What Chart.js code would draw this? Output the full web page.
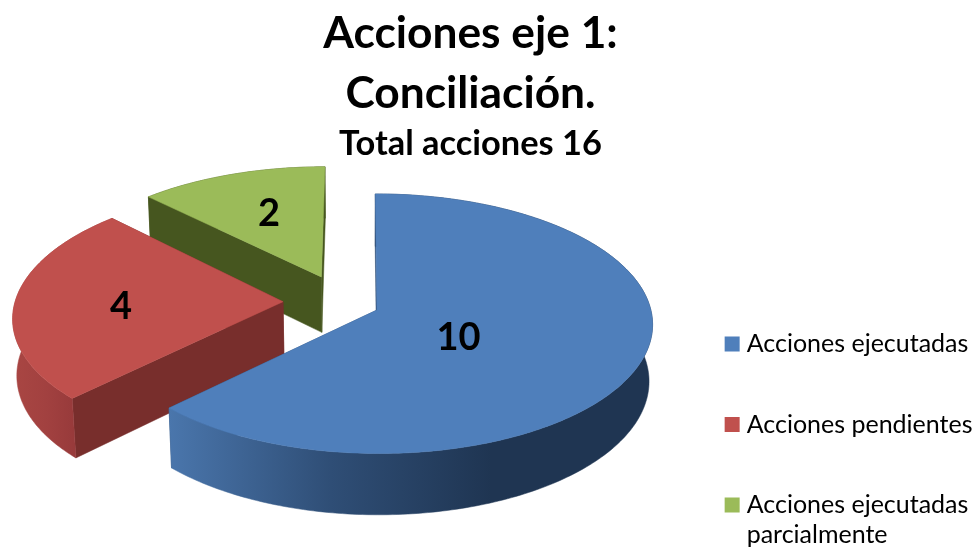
<!DOCTYPE html>
<html>
<head>
<meta charset="utf-8">
<style>
html,body{margin:0;padding:0;background:#fff;overflow:hidden}
#wrap{width:972px;height:547px}
</style>
<script src="https://cdn.jsdelivr.net/npm/chart.js@4/dist/chart.umd.min.js"></script>
</head>
<body>
<div id="wrap"><canvas id="canvas"></canvas></div>
<script>
let categories = ['Acciones ejecutadas', 'Acciones pendientes', ['Acciones ejecutadas', 'parcialmente']];
let values = [10, 4, 2];
let shiftU = [0.062, -0.283, -0.145];
let shiftV = [0.065, 0, -0.2];
let sliceSize = [1, 0.985, 1];
let topColors = ['#4F7FBB', '#C0504D', '#9BBB59'];
let wallColors = ['#2F4E76', '#782E2C', '#46561F'];
let rimColors = [['#4A76AC', '#2F4E76', '#1F3552', '#1F3552'], ['#A94643', '#A24140', '#96393A', '#96393A'], ['#46561F', '#46561F', '#46561F', '#46561F']];
let labelNudgeX = [-48, -26, -5.5];
let labelNudgeY = [3, 5, -10];

// the view of the tilted pie, fitted to the picture
let viewX = 360, viewY = 301.7, viewW = 272, viewH = 126.6, thick = 57, persp = 0.105, sink = 0.012;

function project(u, v, z) {
  let s = 1 / (1 - persp * v + sink * z);
  return { x: viewX + viewW * u * s, y: viewY + (viewH * v + thick * z) * s };
}

function fillPoly(ctx, pts, fill) {
  ctx.beginPath();
  pts.forEach((p, i) => i ? ctx.lineTo(p.x, p.y) : ctx.moveTo(p.x, p.y));
  ctx.closePath();
  ctx.fillStyle = fill;
  ctx.fill();
  ctx.strokeStyle = fill;
  ctx.lineWidth = 0.5;
  ctx.stroke();
}

let pie3d = {
  id: 'pie3d',
  beforeDatasetsDraw(chart) {
    let ctx = chart.ctx;
    let arcs = chart.getDatasetMeta(0).data;
    // back slice first
    [2, 1, 0].forEach(i => {
      let arc = arcs[i];
      let rim = [];
      let n = Math.ceil((arc.endAngle - arc.startAngle) * 60);
      for (let k = 0; k <= n; k++) {
        let t = arc.startAngle + (arc.endAngle - arc.startAngle) * k / n;
        rim.push({ u: shiftU[i] + Math.cos(t) * sliceSize[i], v: shiftV[i] + Math.sin(t) });
      }
      let top = rim.map(p => project(p.u, p.v, 0));
      let bottom = rim.map(p => project(p.u, p.v, 1));
      let apexTop = project(shiftU[i], shiftV[i], 0);
      let apexBottom = project(shiftU[i], shiftV[i], 1);

      fillPoly(ctx, [apexTop, top[n], bottom[n], apexBottom], wallColors[i]);
      fillPoly(ctx, [apexTop, top[0], bottom[0], apexBottom], wallColors[i]);

      let xs = top.map(p => p.x);
      let x0 = Math.min(...xs), x1 = Math.max(...xs);
      let grad = ctx.createLinearGradient(x0, 0, x1, 0);
      rimColors[i].forEach((c, k) => grad.addColorStop(k / 3, c));
      fillPoly(ctx, top.concat(bottom.slice().reverse()), grad);

      fillPoly(ctx, [apexTop].concat(top), topColors[i]);
    });

    ctx.fillStyle = '#000';
    ctx.font = 'bold 38px Lato';
    ctx.textAlign = 'center';
    ctx.textBaseline = 'middle';
    arcs.forEach((arc, i) => {
      let mid = (arc.startAngle + arc.endAngle) / 2;
      let p = project(shiftU[i] + Math.cos(mid) * 0.5, shiftV[i] + Math.sin(mid) * 0.5, 0);
      ctx.fillText(values[i], p.x + labelNudgeX[i], p.y + labelNudgeY[i]);
    });
    return false;
  }
};

let myChart = new Chart(document.getElementById('canvas').getContext('2d'), {
  type: 'pie',
  data: {
    labels: categories,
    datasets: [{
      data: values,
      backgroundColor: topColors,
      borderColor: topColors,
      borderWidth: 11
    }]
  },
  options: {
    responsive: true,
    maintainAspectRatio: false,
    animation: false,
    layout: { padding: { left: -41.5, right: -10.5, top: 4, bottom: -61 } },
    plugins: {
      tooltip: { enabled: false },
      title: {
        display: true,
        text: ['Acciones eje 1:', 'Conciliación.'],
        color: '#000',
        font: { family: 'Lato', size: 44.3, weight: 'bold', lineHeight: 1.354 },
        padding: { top: 0, bottom: 0 }
      },
      subtitle: {
        display: true,
        text: 'Total acciones 16',
        color: '#000',
        font: { family: 'Lato', size: 34.4, weight: 'bold', lineHeight: 1.17 },
        padding: { top: 0, bottom: 0 }
      },
      legend: {
        position: 'right',
        align: 'end',
        labels: {
          color: '#000',
          font: { family: 'Lato', size: 25 },
          boxWidth: 4,
          boxHeight: 4,
          padding: 55.5
        }
      }
    }
  },
  plugins: [pie3d]
});
</script>
</body>
</html>
